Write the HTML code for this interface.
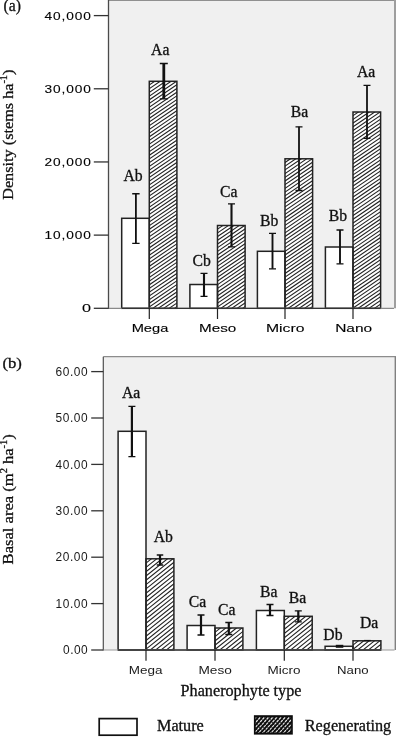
<!DOCTYPE html>
<html><head><meta charset="utf-8"><title>Figure</title>
<style>html,body{margin:0;padding:0;background:#fff}svg{display:block}text{fill:#111;stroke:#111;stroke-width:0.3px}.s{font-family:"Liberation Serif", serif;font-size:15.7px}.n{font-family:"Liberation Sans", sans-serif;stroke-width:0.12px;fill:#000}</style></head>
<body>
<svg width="396" height="737" viewBox="0 0 396 737">
<defs>
</defs>
<rect width="396" height="737" fill="#fff"/>
<rect x="108.5" y="0" width="287.5" height="308.3" fill="#f0f0f0"/>
<line x1="108.5" y1="0.55" x2="396" y2="0.55" stroke="#909090" stroke-width="1.1"/>
<line x1="395" y1="0" x2="395" y2="308.3" stroke="#9e9e9e" stroke-width="2"/>
<rect x="103.3" y="356.7" width="292.7" height="293.3" fill="#f0f0f0"/>
<line x1="103.3" y1="356.7" x2="396" y2="356.7" stroke="#8c8c8c" stroke-width="1.2"/>
<line x1="395.3" y1="356.7" x2="395.3" y2="650.0" stroke="#808080" stroke-width="1.4"/>
<rect x="149.3" y="81.3" width="27.6" height="227.0" fill="#fff"/>
<rect x="217.5" y="225.5" width="27.6" height="82.80000000000001" fill="#fff"/>
<rect x="285" y="158.8" width="27.6" height="149.5" fill="#fff"/>
<rect x="353" y="112" width="27.6" height="196.3" fill="#fff"/>
<clipPath id="c1"><rect x="149.3" y="81.3" width="27.6" height="227.0"/><rect x="217.5" y="225.5" width="27.6" height="82.80000000000001"/><rect x="285" y="158.8" width="27.6" height="149.5"/><rect x="353" y="112" width="27.6" height="196.3"/></clipPath>
<path clip-path="url(#c1)" d="M148.30 81.98L177.90 61.85M148.30 85.68L177.90 65.55M148.30 89.38L177.90 69.25M148.30 93.08L177.90 72.95M148.30 96.78L177.90 76.65M148.30 100.48L177.90 80.35M148.30 104.18L177.90 84.05M148.30 107.88L177.90 87.75M148.30 111.58L177.90 91.45M148.30 115.28L177.90 95.15M148.30 118.98L177.90 98.85M148.30 122.68L177.90 102.55M148.30 126.38L177.90 106.25M148.30 130.08L177.90 109.95M148.30 133.78L177.90 113.65M148.30 137.48L177.90 117.35M148.30 141.18L177.90 121.05M148.30 144.88L177.90 124.75M148.30 148.58L177.90 128.45M148.30 152.28L177.90 132.15M148.30 155.98L177.90 135.85M148.30 159.68L177.90 139.55M148.30 163.38L177.90 143.25M148.30 167.08L177.90 146.95M148.30 170.78L177.90 150.65M148.30 174.48L177.90 154.35M148.30 178.18L177.90 158.05M148.30 181.88L177.90 161.75M148.30 185.58L177.90 165.45M148.30 189.28L177.90 169.15M148.30 192.98L177.90 172.85M148.30 196.68L177.90 176.55M148.30 200.38L177.90 180.25M148.30 204.08L177.90 183.95M148.30 207.78L177.90 187.65M148.30 211.48L177.90 191.35M148.30 215.18L177.90 195.05M148.30 218.88L177.90 198.75M148.30 222.58L177.90 202.45M148.30 226.28L177.90 206.15M148.30 229.98L177.90 209.85M148.30 233.68L177.90 213.55M148.30 237.38L177.90 217.25M148.30 241.08L177.90 220.95M148.30 244.78L177.90 224.65M148.30 248.48L177.90 228.35M148.30 252.18L177.90 232.05M148.30 255.88L177.90 235.75M148.30 259.58L177.90 239.45M148.30 263.28L177.90 243.15M148.30 266.98L177.90 246.85M148.30 270.68L177.90 250.55M148.30 274.38L177.90 254.25M148.30 278.08L177.90 257.95M148.30 281.78L177.90 261.65M148.30 285.48L177.90 265.35M148.30 289.18L177.90 269.05M148.30 292.88L177.90 272.75M148.30 296.58L177.90 276.45M148.30 300.28L177.90 280.15M148.30 303.98L177.90 283.85M148.30 307.68L177.90 287.55M148.30 311.38L177.90 291.25M148.30 315.08L177.90 294.95M148.30 318.78L177.90 298.65M148.30 322.48L177.90 302.35M148.30 326.18L177.90 306.05M148.30 329.88L177.90 309.75M216.50 226.18L246.10 206.05M216.50 229.88L246.10 209.75M216.50 233.58L246.10 213.45M216.50 237.28L246.10 217.15M216.50 240.98L246.10 220.85M216.50 244.68L246.10 224.55M216.50 248.38L246.10 228.25M216.50 252.08L246.10 231.95M216.50 255.78L246.10 235.65M216.50 259.48L246.10 239.35M216.50 263.18L246.10 243.05M216.50 266.88L246.10 246.75M216.50 270.58L246.10 250.45M216.50 274.28L246.10 254.15M216.50 277.98L246.10 257.85M216.50 281.68L246.10 261.55M216.50 285.38L246.10 265.25M216.50 289.08L246.10 268.95M216.50 292.78L246.10 272.65M216.50 296.48L246.10 276.35M216.50 300.18L246.10 280.05M216.50 303.88L246.10 283.75M216.50 307.58L246.10 287.45M216.50 311.28L246.10 291.15M216.50 314.98L246.10 294.85M216.50 318.68L246.10 298.55M216.50 322.38L246.10 302.25M216.50 326.08L246.10 305.95M216.50 329.78L246.10 309.65M284.00 159.48L313.60 139.35M284.00 163.18L313.60 143.05M284.00 166.88L313.60 146.75M284.00 170.58L313.60 150.45M284.00 174.28L313.60 154.15M284.00 177.98L313.60 157.85M284.00 181.68L313.60 161.55M284.00 185.38L313.60 165.25M284.00 189.08L313.60 168.95M284.00 192.78L313.60 172.65M284.00 196.48L313.60 176.35M284.00 200.18L313.60 180.05M284.00 203.88L313.60 183.75M284.00 207.58L313.60 187.45M284.00 211.28L313.60 191.15M284.00 214.98L313.60 194.85M284.00 218.68L313.60 198.55M284.00 222.38L313.60 202.25M284.00 226.08L313.60 205.95M284.00 229.78L313.60 209.65M284.00 233.48L313.60 213.35M284.00 237.18L313.60 217.05M284.00 240.88L313.60 220.75M284.00 244.58L313.60 224.45M284.00 248.28L313.60 228.15M284.00 251.98L313.60 231.85M284.00 255.68L313.60 235.55M284.00 259.38L313.60 239.25M284.00 263.08L313.60 242.95M284.00 266.78L313.60 246.65M284.00 270.48L313.60 250.35M284.00 274.18L313.60 254.05M284.00 277.88L313.60 257.75M284.00 281.58L313.60 261.45M284.00 285.28L313.60 265.15M284.00 288.98L313.60 268.85M284.00 292.68L313.60 272.55M284.00 296.38L313.60 276.25M284.00 300.08L313.60 279.95M284.00 303.78L313.60 283.65M284.00 307.48L313.60 287.35M284.00 311.18L313.60 291.05M284.00 314.88L313.60 294.75M284.00 318.58L313.60 298.45M284.00 322.28L313.60 302.15M284.00 325.98L313.60 305.85M284.00 329.68L313.60 309.55M352.00 112.68L381.60 92.55M352.00 116.38L381.60 96.25M352.00 120.08L381.60 99.95M352.00 123.78L381.60 103.65M352.00 127.48L381.60 107.35M352.00 131.18L381.60 111.05M352.00 134.88L381.60 114.75M352.00 138.58L381.60 118.45M352.00 142.28L381.60 122.15M352.00 145.98L381.60 125.85M352.00 149.68L381.60 129.55M352.00 153.38L381.60 133.25M352.00 157.08L381.60 136.95M352.00 160.78L381.60 140.65M352.00 164.48L381.60 144.35M352.00 168.18L381.60 148.05M352.00 171.88L381.60 151.75M352.00 175.58L381.60 155.45M352.00 179.28L381.60 159.15M352.00 182.98L381.60 162.85M352.00 186.68L381.60 166.55M352.00 190.38L381.60 170.25M352.00 194.08L381.60 173.95M352.00 197.78L381.60 177.65M352.00 201.48L381.60 181.35M352.00 205.18L381.60 185.05M352.00 208.88L381.60 188.75M352.00 212.58L381.60 192.45M352.00 216.28L381.60 196.15M352.00 219.98L381.60 199.85M352.00 223.68L381.60 203.55M352.00 227.38L381.60 207.25M352.00 231.08L381.60 210.95M352.00 234.78L381.60 214.65M352.00 238.48L381.60 218.35M352.00 242.18L381.60 222.05M352.00 245.88L381.60 225.75M352.00 249.58L381.60 229.45M352.00 253.28L381.60 233.15M352.00 256.98L381.60 236.85M352.00 260.68L381.60 240.55M352.00 264.38L381.60 244.25M352.00 268.08L381.60 247.95M352.00 271.78L381.60 251.65M352.00 275.48L381.60 255.35M352.00 279.18L381.60 259.05M352.00 282.88L381.60 262.75M352.00 286.58L381.60 266.45M352.00 290.28L381.60 270.15M352.00 293.98L381.60 273.85M352.00 297.68L381.60 277.55M352.00 301.38L381.60 281.25M352.00 305.08L381.60 284.95M352.00 308.78L381.60 288.65M352.00 312.48L381.60 292.35M352.00 316.18L381.60 296.05M352.00 319.88L381.60 299.75M352.00 323.58L381.60 303.45M352.00 327.28L381.60 307.15M352.00 330.98L381.60 310.85" stroke="#222" stroke-width="1.1" fill="none"/>
<rect x="121.70000000000002" y="218.3" width="27.6" height="90.0" fill="#fff" stroke="#222" stroke-width="1.5"/>
<rect x="149.3" y="81.3" width="27.6" height="227.0" fill="none" stroke="#222" stroke-width="1.5"/>
<rect x="189.9" y="284.5" width="27.6" height="23.80000000000001" fill="#fff" stroke="#222" stroke-width="1.5"/>
<rect x="217.5" y="225.5" width="27.6" height="82.80000000000001" fill="none" stroke="#222" stroke-width="1.5"/>
<rect x="257.4" y="251.3" width="27.6" height="57.0" fill="#fff" stroke="#222" stroke-width="1.5"/>
<rect x="285" y="158.8" width="27.6" height="149.5" fill="none" stroke="#222" stroke-width="1.5"/>
<rect x="325.4" y="247" width="27.6" height="61.30000000000001" fill="#fff" stroke="#222" stroke-width="1.5"/>
<rect x="353" y="112" width="27.6" height="196.3" fill="none" stroke="#222" stroke-width="1.5"/>
<path d="M135.9 193.7V243.4" stroke="#111" stroke-width="1.8" fill="none"/>
<path d="M132.20000000000002 193.7h7.4M132.20000000000002 243.4h7.4" stroke="#111" stroke-width="1.35" fill="none"/>
<path d="M163.8 63.5V98.8" stroke="#111" stroke-width="2.8" fill="none"/>
<path d="M159.8 63.5h8M159.8 98.8h8" stroke="#111" stroke-width="1.35" fill="none"/>
<path d="M204 273.3V296.3" stroke="#111" stroke-width="2.1" fill="none"/>
<path d="M200.5 273.3h7M200.5 296.3h7" stroke="#111" stroke-width="1.35" fill="none"/>
<path d="M231.5 203.8V246.8" stroke="#111" stroke-width="2.1" fill="none"/>
<path d="M228.0 203.8h7M228.0 246.8h7" stroke="#111" stroke-width="1.35" fill="none"/>
<path d="M272.5 233.3V268.8" stroke="#111" stroke-width="1.9" fill="none"/>
<path d="M269.0 233.3h7M269.0 268.8h7" stroke="#111" stroke-width="1.35" fill="none"/>
<path d="M299 126.8V190.5" stroke="#111" stroke-width="1.8" fill="none"/>
<path d="M295.5 126.8h7M295.5 190.5h7" stroke="#111" stroke-width="1.35" fill="none"/>
<path d="M340 230V263.8" stroke="#111" stroke-width="1.9" fill="none"/>
<path d="M336.5 230h7M336.5 263.8h7" stroke="#111" stroke-width="1.35" fill="none"/>
<path d="M367 85.3V138.3" stroke="#111" stroke-width="1.8" fill="none"/>
<path d="M363.5 85.3h7M363.5 138.3h7" stroke="#111" stroke-width="1.35" fill="none"/>
<line x1="108.5" y1="0" x2="108.5" y2="308.90000000000003" stroke="#4a4a4a" stroke-width="1.3"/>
<line x1="108.5" y1="308.3" x2="394" y2="308.3" stroke="#8a8a8a" stroke-width="1.2"/>
<line x1="121.70000000000002" y1="308.3" x2="380.6" y2="308.3" stroke="#333" stroke-width="1.3"/>
<line x1="149.3" y1="308.3" x2="149.3" y2="319.0" stroke="#222" stroke-width="1.2"/>
<line x1="217.5" y1="308.3" x2="217.5" y2="319.0" stroke="#222" stroke-width="1.2"/>
<line x1="285" y1="308.3" x2="285" y2="319.0" stroke="#222" stroke-width="1.2"/>
<line x1="353" y1="308.3" x2="353" y2="319.0" stroke="#222" stroke-width="1.2"/>
<line x1="93.8" y1="308.30" x2="108.5" y2="308.30" stroke="#333" stroke-width="1.3"/>
<text class="n" transform="translate(90.9,312.20) scale(1.42,1)" font-size="11.4" text-anchor="end">0</text>
<line x1="93.8" y1="235.12" x2="108.5" y2="235.12" stroke="#333" stroke-width="1.3"/>
<text class="n" transform="translate(90.9,239.03) scale(1.2,1)" font-size="11.4" text-anchor="end" textLength="38.75" lengthAdjust="spacing">10,000</text>
<line x1="93.8" y1="161.95" x2="108.5" y2="161.95" stroke="#333" stroke-width="1.3"/>
<text class="n" transform="translate(90.9,165.85) scale(1.2,1)" font-size="11.4" text-anchor="end" textLength="38.75" lengthAdjust="spacing">20,000</text>
<line x1="93.8" y1="88.78" x2="108.5" y2="88.78" stroke="#333" stroke-width="1.3"/>
<text class="n" transform="translate(90.9,92.68) scale(1.2,1)" font-size="11.4" text-anchor="end" textLength="38.75" lengthAdjust="spacing">30,000</text>
<line x1="93.8" y1="15.60" x2="108.5" y2="15.60" stroke="#333" stroke-width="1.3"/>
<text class="n" transform="translate(90.9,19.50) scale(1.2,1)" font-size="11.4" text-anchor="end" textLength="38.75" lengthAdjust="spacing">40,000</text>
<text class="n" x="150" y="332.1" font-size="11.2" text-anchor="middle" textLength="36.6" lengthAdjust="spacingAndGlyphs">Mega</text>
<text class="n" x="217.6" y="332.1" font-size="11.2" text-anchor="middle" textLength="37.2" lengthAdjust="spacingAndGlyphs">Meso</text>
<text class="n" x="285.2" y="332.1" font-size="11.2" text-anchor="middle" textLength="38.5" lengthAdjust="spacingAndGlyphs">Micro</text>
<text class="n" x="353.7" y="332.1" font-size="11.2" text-anchor="middle" textLength="37" lengthAdjust="spacingAndGlyphs">Nano</text>
<rect x="146" y="558.8" width="27.9" height="91.20000000000005" fill="#fff"/>
<rect x="215" y="628" width="27.9" height="22.0" fill="#fff"/>
<rect x="284.3" y="616.3" width="27.9" height="33.700000000000045" fill="#fff"/>
<rect x="353" y="640.8" width="27.9" height="9.200000000000045" fill="#fff"/>
<clipPath id="c2"><rect x="146" y="558.8" width="27.9" height="91.20000000000005"/><rect x="215" y="628" width="27.9" height="22.0"/><rect x="284.3" y="616.3" width="27.9" height="33.700000000000045"/><rect x="353" y="640.8" width="27.9" height="9.200000000000045"/></clipPath>
<path clip-path="url(#c2)" d="M145.00 559.60L174.90 535.68M145.00 563.90L174.90 539.98M145.00 568.20L174.90 544.28M145.00 572.50L174.90 548.58M145.00 576.80L174.90 552.88M145.00 581.10L174.90 557.18M145.00 585.40L174.90 561.48M145.00 589.70L174.90 565.78M145.00 594.00L174.90 570.08M145.00 598.30L174.90 574.38M145.00 602.60L174.90 578.68M145.00 606.90L174.90 582.98M145.00 611.20L174.90 587.28M145.00 615.50L174.90 591.58M145.00 619.80L174.90 595.88M145.00 624.10L174.90 600.18M145.00 628.40L174.90 604.48M145.00 632.70L174.90 608.78M145.00 637.00L174.90 613.08M145.00 641.30L174.90 617.38M145.00 645.60L174.90 621.68M145.00 649.90L174.90 625.98M145.00 654.20L174.90 630.28M145.00 658.50L174.90 634.58M145.00 662.80L174.90 638.88M145.00 667.10L174.90 643.18M145.00 671.40L174.90 647.48M145.00 675.70L174.90 651.78M214.00 628.80L243.90 604.88M214.00 633.10L243.90 609.18M214.00 637.40L243.90 613.48M214.00 641.70L243.90 617.78M214.00 646.00L243.90 622.08M214.00 650.30L243.90 626.38M214.00 654.60L243.90 630.68M214.00 658.90L243.90 634.98M214.00 663.20L243.90 639.28M214.00 667.50L243.90 643.58M214.00 671.80L243.90 647.88M214.00 676.10L243.90 652.18M283.30 617.10L313.20 593.18M283.30 621.40L313.20 597.48M283.30 625.70L313.20 601.78M283.30 630.00L313.20 606.08M283.30 634.30L313.20 610.38M283.30 638.60L313.20 614.68M283.30 642.90L313.20 618.98M283.30 647.20L313.20 623.28M283.30 651.50L313.20 627.58M283.30 655.80L313.20 631.88M283.30 660.10L313.20 636.18M283.30 664.40L313.20 640.48M283.30 668.70L313.20 644.78M283.30 673.00L313.20 649.08M283.30 677.30L313.20 653.38M352.00 641.60L381.90 617.68M352.00 645.90L381.90 621.98M352.00 650.20L381.90 626.28M352.00 654.50L381.90 630.58M352.00 658.80L381.90 634.88M352.00 663.10L381.90 639.18M352.00 667.40L381.90 643.48M352.00 671.70L381.90 647.78M352.00 676.00L381.90 652.08" stroke="#222" stroke-width="1.1" fill="none"/>
<rect x="118.1" y="431.3" width="27.9" height="218.7" fill="#fff" stroke="#222" stroke-width="1.5"/>
<rect x="146" y="558.8" width="27.9" height="91.20000000000005" fill="none" stroke="#222" stroke-width="1.5"/>
<rect x="187.1" y="625.5" width="27.9" height="24.5" fill="#fff" stroke="#222" stroke-width="1.5"/>
<rect x="215" y="628" width="27.9" height="22.0" fill="none" stroke="#222" stroke-width="1.5"/>
<rect x="256.40000000000003" y="610.5" width="27.9" height="39.5" fill="#fff" stroke="#222" stroke-width="1.5"/>
<rect x="284.3" y="616.3" width="27.9" height="33.700000000000045" fill="none" stroke="#222" stroke-width="1.5"/>
<rect x="325.1" y="646.3" width="27.9" height="3.7000000000000455" fill="#fff" stroke="#222" stroke-width="1.5"/>
<rect x="353" y="640.8" width="27.9" height="9.200000000000045" fill="none" stroke="#222" stroke-width="1.5"/>
<path d="M131.9 406.3V456.6" stroke="#111" stroke-width="2.2" fill="none"/>
<path d="M128.4 406.3h7M128.4 456.6h7" stroke="#111" stroke-width="1.35" fill="none"/>
<path d="M160 555V565" stroke="#111" stroke-width="2.2" fill="none"/>
<path d="M156.75 555h6.5M156.75 565h6.5" stroke="#111" stroke-width="1.35" fill="none"/>
<path d="M201 615V635" stroke="#111" stroke-width="2.2" fill="none"/>
<path d="M197.5 615h7M197.5 635h7" stroke="#111" stroke-width="1.35" fill="none"/>
<path d="M228.8 622.5V634.5" stroke="#111" stroke-width="2.2" fill="none"/>
<path d="M225.3 622.5h7M225.3 634.5h7" stroke="#111" stroke-width="1.35" fill="none"/>
<path d="M270 604.5V615.5" stroke="#111" stroke-width="2.2" fill="none"/>
<path d="M266.5 604.5h7M266.5 615.5h7" stroke="#111" stroke-width="1.35" fill="none"/>
<path d="M298.3 610.8V621.8" stroke="#111" stroke-width="2.2" fill="none"/>
<path d="M294.8 610.8h7M294.8 621.8h7" stroke="#111" stroke-width="1.35" fill="none"/>
<line x1="335.8" y1="646.3" x2="343.3" y2="646.3" stroke="#111" stroke-width="3"/>
<line x1="364" y1="640.6" x2="370.8" y2="640.6" stroke="#111" stroke-width="1.4"/>
<line x1="103.3" y1="356.7" x2="103.3" y2="650.6" stroke="#505050" stroke-width="1.2"/>
<line x1="103.3" y1="650.0" x2="394.6" y2="650.0" stroke="#9a9a9a" stroke-width="1.1"/>
<line x1="118.1" y1="650.0" x2="380.9" y2="650.0" stroke="#333" stroke-width="1.3"/>
<line x1="146" y1="650.0" x2="146" y2="660.7" stroke="#222" stroke-width="1.2"/>
<line x1="215" y1="650.0" x2="215" y2="660.7" stroke="#222" stroke-width="1.2"/>
<line x1="284.3" y1="650.0" x2="284.3" y2="660.7" stroke="#222" stroke-width="1.2"/>
<line x1="353" y1="650.0" x2="353" y2="660.7" stroke="#222" stroke-width="1.2"/>
<line x1="91.2" y1="650.00" x2="103.3" y2="650.00" stroke="#333" stroke-width="1.3"/>
<text class="n" x="87.7" y="654.20" font-size="11.9" text-anchor="end" textLength="24.6" lengthAdjust="spacing" style="stroke:none;fill:#1a1a1a">0.00</text>
<line x1="91.2" y1="603.60" x2="103.3" y2="603.60" stroke="#333" stroke-width="1.3"/>
<text class="n" x="87.7" y="607.80" font-size="11.9" text-anchor="end" textLength="32.3" lengthAdjust="spacing" style="stroke:none;fill:#1a1a1a">10.00</text>
<line x1="91.2" y1="557.20" x2="103.3" y2="557.20" stroke="#333" stroke-width="1.3"/>
<text class="n" x="87.7" y="561.40" font-size="11.9" text-anchor="end" textLength="32.3" lengthAdjust="spacing" style="stroke:none;fill:#1a1a1a">20.00</text>
<line x1="91.2" y1="510.80" x2="103.3" y2="510.80" stroke="#333" stroke-width="1.3"/>
<text class="n" x="87.7" y="515.00" font-size="11.9" text-anchor="end" textLength="32.3" lengthAdjust="spacing" style="stroke:none;fill:#1a1a1a">30.00</text>
<line x1="91.2" y1="464.40" x2="103.3" y2="464.40" stroke="#333" stroke-width="1.3"/>
<text class="n" x="87.7" y="468.60" font-size="11.9" text-anchor="end" textLength="32.3" lengthAdjust="spacing" style="stroke:none;fill:#1a1a1a">40.00</text>
<line x1="91.2" y1="418.00" x2="103.3" y2="418.00" stroke="#333" stroke-width="1.3"/>
<text class="n" x="87.7" y="422.20" font-size="11.9" text-anchor="end" textLength="32.3" lengthAdjust="spacing" style="stroke:none;fill:#1a1a1a">50.00</text>
<line x1="91.2" y1="371.60" x2="103.3" y2="371.60" stroke="#333" stroke-width="1.3"/>
<text class="n" x="87.7" y="375.80" font-size="11.9" text-anchor="end" textLength="32.3" lengthAdjust="spacing" style="stroke:none;fill:#1a1a1a">60.00</text>
<text class="n" x="145.6" y="673.9" font-size="11.6" text-anchor="middle" textLength="33.7" lengthAdjust="spacingAndGlyphs" style="stroke:none;fill:#1a1a1a">Mega</text>
<text class="n" x="215.2" y="673.9" font-size="11.6" text-anchor="middle" textLength="33.4" lengthAdjust="spacingAndGlyphs" style="stroke:none;fill:#1a1a1a">Meso</text>
<text class="n" x="284.0" y="673.9" font-size="11.6" text-anchor="middle" textLength="33.0" lengthAdjust="spacingAndGlyphs" style="stroke:none;fill:#1a1a1a">Micro</text>
<text class="n" x="352.8" y="673.9" font-size="11.6" text-anchor="middle" textLength="31.6" lengthAdjust="spacingAndGlyphs" style="stroke:none;fill:#1a1a1a">Nano</text>
<text class="s" x="3.5" y="11.1" text-anchor="start">(a)</text>
<text class="s" x="2.4" y="367.6" text-anchor="start" style="font-size:15.2px" textLength="19.5" lengthAdjust="spacingAndGlyphs">(b)</text>
<text class="s" x="151.1" y="54.7" text-anchor="start">Aa</text>
<text class="s" x="123.5" y="180.5" text-anchor="start">Ab</text>
<text class="s" x="192.5" y="265.5" text-anchor="start">Cb</text>
<text class="s" x="220" y="197" text-anchor="start">Ca</text>
<text class="s" x="260" y="225.5" text-anchor="start">Bb</text>
<text class="s" x="290.8" y="117" text-anchor="start">Ba</text>
<text class="s" x="328.8" y="220.5" text-anchor="start">Bb</text>
<text class="s" x="357" y="76.8" text-anchor="start">Aa</text>
<text class="s" x="121.9" y="397.5" text-anchor="start">Aa</text>
<text class="s" x="153.7" y="542" text-anchor="start">Ab</text>
<text class="s" x="188.8" y="606.8" text-anchor="start">Ca</text>
<text class="s" x="218" y="614.5" text-anchor="start">Ca</text>
<text class="s" x="260" y="596.8" text-anchor="start">Ba</text>
<text class="s" x="288.8" y="603" text-anchor="start">Ba</text>
<text class="s" x="323.3" y="639.5" text-anchor="start">Db</text>
<text class="s" x="360" y="628.3" text-anchor="start">Da</text>
<text class="s" x="180.6" y="695.6" text-anchor="start" textLength="120.9" lengthAdjust="spacingAndGlyphs">Phanerophyte type</text>
<text class="s" x="157" y="730.8" text-anchor="start" textLength="46.8" lengthAdjust="spacingAndGlyphs">Mature</text>
<text class="s" x="304.8" y="731" text-anchor="start" textLength="86.4" lengthAdjust="spacingAndGlyphs">Regenerating</text>
<text class="s" transform="translate(13.1,199.8) rotate(-90)" x="0" y="0" style="font-size:15.3px" textLength="130.2" lengthAdjust="spacingAndGlyphs">Density (stems ha<tspan font-size="9.6" dy="-6">-1</tspan><tspan dy="6">)</tspan></text>
<text class="s" transform="translate(12.7,564.4) rotate(-90)" x="0" y="0" style="font-size:15.3px" textLength="130.2" lengthAdjust="spacingAndGlyphs">Basal area (m<tspan font-size="9.6" dy="-6">2</tspan><tspan dy="6"> ha</tspan><tspan font-size="9.6" dy="-6">-1</tspan><tspan dy="6">)</tspan></text>
<rect x="99.2" y="718.6" width="37.8" height="16.6" fill="#fff" stroke="#111" stroke-width="1.7"/>
<rect x="253.9" y="715.2" width="38.9" height="19.4" fill="#0c0c0c"/>
<clipPath id="cl"><rect x="255.6" y="716.9000000000001" width="35.5" height="15.999999999999998"/></clipPath>
<path clip-path="url(#cl)" d="M236.26 734.60L253.90 715.20M240.41 734.60L258.05 715.20M244.56 734.60L262.20 715.20M248.71 734.60L266.35 715.20M252.86 734.60L270.50 715.20M257.01 734.60L274.65 715.20M261.16 734.60L278.80 715.20M265.31 734.60L282.95 715.20M269.46 734.60L287.10 715.20M273.61 734.60L291.25 715.20M277.76 734.60L295.40 715.20M281.91 734.60L299.55 715.20M286.06 734.60L303.70 715.20M290.21 734.60L307.85 715.20M294.36 734.60L312.00 715.20" stroke="#e2e2e2" stroke-width="1.2" stroke-dasharray="2.7 0.7" fill="none"/>
</svg>
</body></html>
